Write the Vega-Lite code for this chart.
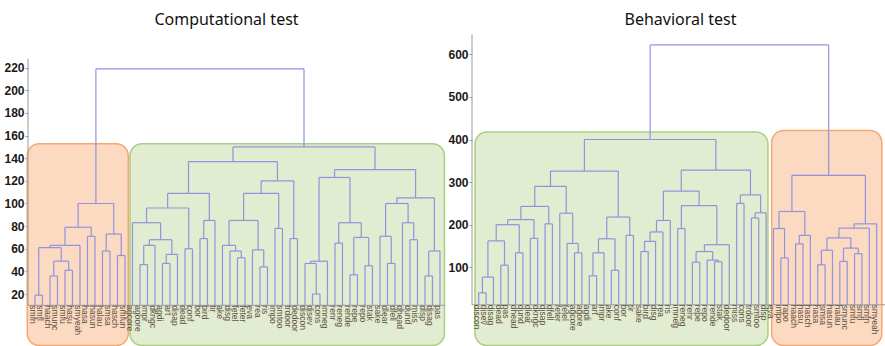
{
  "$schema": "https://vega.github.io/schema/vega-lite/v6.json",
  "padding": {"left": 0, "right": 0, "top": 11, "bottom": 0},
  "spacing": 0,
  "config": {
    "view": {"stroke": null},
    "axis": {"labelFont": "Liberation Sans", "labelFontSize": 12, "labelColor": "#1a1a1a", "labelFontWeight": "bold", "tickColor": "#999999", "tickSize": 3, "labelPadding": 1, "domain": false, "grid": false},
    "title": {"font": "Noto Sans", "fontSize": 16, "fontWeight": "normal", "color": "#111111", "offset": 6}
  },
  "datasets": {
    "one": [{}],
    "boxesL": [
      {"cluster": "orange", "a": -1.03, "b": 12.44, "top": 152.8, "bot": -25.5},
      {"cluster": "green", "a": 12.67, "b": 54.6, "top": 152.8, "bot": -25.5}
    ],
    "boxesR": [
      {"cluster": "green", "a": -0.5, "b": 39.25, "top": 417.6, "bot": -83.6},
      {"cluster": "orange", "a": 39.75, "b": 54.7, "top": 421, "bot": -83.6}
    ],
    "linksL": [
      {"xl": 0, "hl": 10, "xr": 1, "hr": 10, "h": 19},
      {"xl": 2, "hl": 10, "xr": 3, "hr": 10, "h": 36},
      {"xl": 4, "hl": 10, "xr": 5, "hr": 10, "h": 41},
      {"xl": 2.5, "hl": 36, "xr": 4.5, "hr": 41, "h": 49},
      {"xl": 0.5, "hl": 19, "xr": 3.5, "hr": 49, "h": 61},
      {"xl": 2, "hl": 61, "xr": 6, "hr": 10, "h": 63},
      {"xl": 7, "hl": 10, "xr": 8, "hr": 10, "h": 71},
      {"xl": 4, "hl": 63, "xr": 7.5, "hr": 71, "h": 79},
      {"xl": 9, "hl": 10, "xr": 10, "hr": 10, "h": 58},
      {"xl": 11, "hl": 10, "xr": 12, "hr": 10, "h": 54},
      {"xl": 9.5, "hl": 58, "xr": 11.5, "hr": 54, "h": 73},
      {"xl": 5.75, "hl": 79, "xr": 10.5, "hr": 73, "h": 100},
      {"xl": 14, "hl": 10, "xr": 15, "hr": 10, "h": 46},
      {"xl": 14.5, "hl": 46, "xr": 16, "hr": 10, "h": 63},
      {"xl": 17, "hl": 10, "xr": 18, "hr": 10, "h": 47},
      {"xl": 17.5, "hl": 47, "xr": 19, "hr": 10, "h": 55},
      {"xl": 15.25, "hl": 63, "xr": 18.25, "hr": 55, "h": 68},
      {"xl": 13, "hl": 10, "xr": 16.75, "hr": 68, "h": 83},
      {"xl": 20, "hl": 10, "xr": 21, "hr": 10, "h": 60},
      {"xl": 14.875, "hl": 83, "xr": 20.5, "hr": 60, "h": 96},
      {"xl": 22, "hl": 10, "xr": 23, "hr": 10, "h": 69},
      {"xl": 22.5, "hl": 69, "xr": 24, "hr": 10, "h": 85},
      {"xl": 17.6875, "hl": 96, "xr": 23.25, "hr": 85, "h": 109},
      {"xl": 27, "hl": 10, "xr": 28, "hr": 10, "h": 52},
      {"xl": 26, "hl": 10, "xr": 27.5, "hr": 52, "h": 58},
      {"xl": 25, "hl": 10, "xr": 26.75, "hr": 58, "h": 63},
      {"xl": 30, "hl": 10, "xr": 31, "hr": 10, "h": 44},
      {"xl": 29, "hl": 10, "xr": 30.5, "hr": 44, "h": 59},
      {"xl": 25.875, "hl": 63, "xr": 29.75, "hr": 59, "h": 85},
      {"xl": 32, "hl": 10, "xr": 33, "hr": 10, "h": 78},
      {"xl": 27.8125, "hl": 85, "xr": 32.5, "hr": 78, "h": 109},
      {"xl": 34, "hl": 10, "xr": 35, "hr": 10, "h": 69},
      {"xl": 30.15625, "hl": 109, "xr": 34.5, "hr": 69, "h": 120},
      {"xl": 20.46875, "hl": 109, "xr": 32.328125, "hr": 120, "h": 137},
      {"xl": 37, "hl": 10, "xr": 38, "hr": 10, "h": 20},
      {"xl": 36, "hl": 10, "xr": 37.5, "hr": 20, "h": 47},
      {"xl": 36.75, "hl": 47, "xr": 39, "hr": 10, "h": 49},
      {"xl": 40, "hl": 10, "xr": 41, "hr": 10, "h": 65},
      {"xl": 42, "hl": 10, "xr": 43, "hr": 10, "h": 37},
      {"xl": 44, "hl": 10, "xr": 45, "hr": 10, "h": 45},
      {"xl": 42.5, "hl": 37, "xr": 44.5, "hr": 45, "h": 70},
      {"xl": 40.5, "hl": 65, "xr": 43.5, "hr": 70, "h": 83},
      {"xl": 37.875, "hl": 49, "xr": 42, "hr": 83, "h": 123},
      {"xl": 47, "hl": 10, "xr": 48, "hr": 10, "h": 47},
      {"xl": 46, "hl": 10, "xr": 47.5, "hr": 47, "h": 71},
      {"xl": 50, "hl": 10, "xr": 51, "hr": 10, "h": 68},
      {"xl": 49, "hl": 10, "xr": 50.5, "hr": 68, "h": 83},
      {"xl": 46.75, "hl": 71, "xr": 49.75, "hr": 83, "h": 100},
      {"xl": 52, "hl": 10, "xr": 53, "hr": 10, "h": 36},
      {"xl": 52.5, "hl": 36, "xr": 54, "hr": 10, "h": 58},
      {"xl": 48.25, "hl": 100, "xr": 53.25, "hr": 58, "h": 105},
      {"xl": 39.9375, "hl": 123, "xr": 50.75, "hr": 105, "h": 130},
      {"xl": 26.3984, "hl": 137, "xr": 45.3438, "hr": 130, "h": 150},
      {"xl": 8.125, "hl": 100, "xr": 35.8711, "hr": 150, "h": 219}
    ],
    "linksR": [
      {"xl": 0, "hl": 12, "xr": 1, "hr": 12, "h": 40},
      {"xl": 0.5, "hl": 40, "xr": 2, "hr": 12, "h": 77},
      {"xl": 3, "hl": 12, "xr": 4, "hr": 12, "h": 105},
      {"xl": 1.25, "hl": 77, "xr": 3.5, "hr": 105, "h": 162},
      {"xl": 5, "hl": 12, "xr": 6, "hr": 12, "h": 134},
      {"xl": 2.375, "hl": 162, "xr": 5.5, "hr": 134, "h": 200},
      {"xl": 7, "hl": 12, "xr": 8, "hr": 12, "h": 168},
      {"xl": 3.9375, "hl": 200, "xr": 7.5, "hr": 168, "h": 212},
      {"xl": 9, "hl": 12, "xr": 10, "hr": 12, "h": 202},
      {"xl": 5.71875, "hl": 212, "xr": 9.5, "hr": 202, "h": 243},
      {"xl": 13, "hl": 12, "xr": 14, "hr": 12, "h": 134},
      {"xl": 12, "hl": 12, "xr": 13.5, "hr": 134, "h": 156},
      {"xl": 11, "hl": 12, "xr": 12.75, "hr": 156, "h": 227},
      {"xl": 7.609375, "hl": 243, "xr": 11.875, "hr": 227, "h": 290},
      {"xl": 15, "hl": 12, "xr": 16, "hr": 12, "h": 80},
      {"xl": 15.5, "hl": 80, "xr": 17, "hr": 12, "h": 134},
      {"xl": 18, "hl": 12, "xr": 19, "hr": 12, "h": 93},
      {"xl": 16.25, "hl": 134, "xr": 18.5, "hr": 93, "h": 167},
      {"xl": 20, "hl": 12, "xr": 21, "hr": 12, "h": 175},
      {"xl": 17.375, "hl": 167, "xr": 20.5, "hr": 175, "h": 218},
      {"xl": 9.7421875, "hl": 290, "xr": 18.9375, "hr": 218, "h": 326},
      {"xl": 22, "hl": 12, "xr": 23, "hr": 12, "h": 137},
      {"xl": 22.5, "hl": 137, "xr": 24, "hr": 12, "h": 161},
      {"xl": 23.25, "hl": 161, "xr": 25, "hr": 12, "h": 183},
      {"xl": 24.125, "hl": 183, "xr": 26, "hr": 12, "h": 210},
      {"xl": 27, "hl": 12, "xr": 28, "hr": 12, "h": 191},
      {"xl": 29, "hl": 12, "xr": 30, "hr": 12, "h": 112},
      {"xl": 32, "hl": 12, "xr": 33, "hr": 12, "h": 113},
      {"xl": 31, "hl": 12, "xr": 32.5, "hr": 113, "h": 117},
      {"xl": 29.5, "hl": 112, "xr": 31.75, "hr": 117, "h": 137},
      {"xl": 30.625, "hl": 137, "xr": 34, "hr": 12, "h": 153},
      {"xl": 27.5, "hl": 191, "xr": 32.3125, "hr": 153, "h": 245},
      {"xl": 25.0625, "hl": 210, "xr": 29.90625, "hr": 245, "h": 279},
      {"xl": 37, "hl": 12, "xr": 38, "hr": 12, "h": 216},
      {"xl": 37.5, "hl": 216, "xr": 39, "hr": 12, "h": 228},
      {"xl": 35, "hl": 12, "xr": 36, "hr": 12, "h": 250},
      {"xl": 35.5, "hl": 250, "xr": 38.25, "hr": 228, "h": 270},
      {"xl": 27.484375, "hl": 279, "xr": 36.875, "hr": 270, "h": 328},
      {"xl": 14.33984375, "hl": 326, "xr": 32.1796875, "hr": 328, "h": 400},
      {"xl": 41, "hl": 12, "xr": 42, "hr": 12, "h": 122},
      {"xl": 40, "hl": 12, "xr": 41.5, "hr": 122, "h": 191},
      {"xl": 43, "hl": 12, "xr": 44, "hr": 12, "h": 155},
      {"xl": 43.5, "hl": 155, "xr": 45, "hr": 12, "h": 175},
      {"xl": 40.75, "hl": 191, "xr": 44.25, "hr": 175, "h": 231},
      {"xl": 46, "hl": 12, "xr": 47, "hr": 12, "h": 106},
      {"xl": 46.5, "hl": 106, "xr": 48, "hr": 12, "h": 140},
      {"xl": 49, "hl": 12, "xr": 50, "hr": 12, "h": 114},
      {"xl": 51, "hl": 12, "xr": 52, "hr": 12, "h": 132},
      {"xl": 49.5, "hl": 114, "xr": 51.5, "hr": 132, "h": 145},
      {"xl": 47.25, "hl": 140, "xr": 50.5, "hr": 145, "h": 169},
      {"xl": 48.875, "hl": 169, "xr": 53, "hr": 12, "h": 192},
      {"xl": 50.9375, "hl": 192, "xr": 54, "hr": 12, "h": 202},
      {"xl": 42.5, "hl": 231, "xr": 52.46875, "hr": 202, "h": 316},
      {"xl": 23.259765625, "hl": 400, "xr": 47.484375, "hr": 316, "h": 622}
    ],
    "leavesL": [
      {"i": 0, "label": "smfn"}, {"i": 1, "label": "smfl"}, {"i": 2, "label": "haach"}, {"i": 3, "label": "smunc"}, {"i": 4, "label": "smfu"}, {"i": 5, "label": "hasu"}, {"i": 6, "label": "smyeah"}, {"i": 7, "label": "hasa"}, {"i": 8, "label": "hasun"}, {"i": 9, "label": "halau"}, {"i": 10, "label": "smsa"}, {"i": 11, "label": "hasch"}, {"i": 12, "label": "smfun"},
      {"i": 13, "label": "agcore"}, {"i": 14, "label": "agoore"}, {"i": 15, "label": "impr"}, {"i": 16, "label": "dkngc"}, {"i": 17, "label": "agdi"}, {"i": 18, "label": "art"}, {"i": 19, "label": "disap"}, {"i": 20, "label": "dead"}, {"i": 21, "label": "conf"}, {"i": 22, "label": "bor"}, {"i": 23, "label": "bird"}, {"i": 24, "label": "tir"}, {"i": 25, "label": "ake"}, {"i": 26, "label": "disg"}, {"i": 27, "label": "fetel"}, {"i": 28, "label": "feter"}, {"i": 29, "label": "eva"}, {"i": 30, "label": "rea"}, {"i": 31, "label": "ris"}, {"i": 32, "label": "impo"}, {"i": 33, "label": "smtoo"}, {"i": 34, "label": "trdoor"}, {"i": 35, "label": "dedoor"}, {"i": 36, "label": "discon"}, {"i": 37, "label": "disev"}, {"i": 38, "label": "cons"}, {"i": 39, "label": "imneg"}, {"i": 40, "label": "renr"}, {"i": 41, "label": "reneg"}, {"i": 42, "label": "rende"}, {"i": 43, "label": "repe"}, {"i": 44, "label": "repo"}, {"i": 45, "label": "stak"}, {"i": 46, "label": "sake"}, {"i": 47, "label": "dlear"}, {"i": 48, "label": "dfell"}, {"i": 49, "label": "dhead"}, {"i": 50, "label": "dund"}, {"i": 51, "label": "miss"}, {"i": 52, "label": "dlsp"}, {"i": 53, "label": "disag"}, {"i": 54, "label": "pas"}
    ],
    "leavesR": [
      {"i": 0, "label": "discon"}, {"i": 1, "label": "disev"}, {"i": 2, "label": "disag"}, {"i": 3, "label": "dead"}, {"i": 4, "label": "pas"}, {"i": 5, "label": "dhead"}, {"i": 6, "label": "dund"}, {"i": 7, "label": "dlear"}, {"i": 8, "label": "dkngc"}, {"i": 9, "label": "disap"}, {"i": 10, "label": "dfell"}, {"i": 11, "label": "feter"}, {"i": 12, "label": "fetel"}, {"i": 13, "label": "agcore"}, {"i": 14, "label": "agore"}, {"i": 15, "label": "agdi"}, {"i": 16, "label": "art"}, {"i": 17, "label": "impr"}, {"i": 18, "label": "ake"}, {"i": 19, "label": "conf"}, {"i": 20, "label": "bor"}, {"i": 21, "label": "tir"}, {"i": 22, "label": "sake"}, {"i": 23, "label": "bird"}, {"i": 24, "label": "disg"}, {"i": 25, "label": "rea"}, {"i": 26, "label": "ris"}, {"i": 27, "label": "imneg"}, {"i": 28, "label": "reneg"}, {"i": 29, "label": "renr"}, {"i": 30, "label": "repe"}, {"i": 31, "label": "repo"}, {"i": 32, "label": "rende"}, {"i": 33, "label": "stak"}, {"i": 34, "label": "dedoor"}, {"i": 35, "label": "miss"}, {"i": 36, "label": "cons"}, {"i": 37, "label": "trdoor"}, {"i": 38, "label": "smtoo"}, {"i": 39, "label": "dlsp"},
      {"i": 40, "label": "eva"}, {"i": 41, "label": "impo"}, {"i": 42, "label": "rapo"}, {"i": 43, "label": "haach"}, {"i": 44, "label": "hasu"}, {"i": 45, "label": "hasch"}, {"i": 46, "label": "hasa"}, {"i": 47, "label": "smsa"}, {"i": 48, "label": "hasun"}, {"i": 49, "label": "halau"}, {"i": 50, "label": "smunc"}, {"i": 51, "label": "smfu"}, {"i": 52, "label": "smfl"}, {"i": 53, "label": "smfn"}, {"i": 54, "label": "smyeah"}
    ]
  },
  "hconcat": [
    {
      "width": 417,
      "height": 313,
      "title": {"text": "Computational test", "dx": -10},
      "layer": [
        {
          "data": {"name": "boxesL"},
          "mark": {"type": "rect", "cornerRadius": 12, "strokeWidth": 1.5},
          "encoding": {
            "x": {"field": "a", "type": "quantitative", "scale": {"domain": [-0.93, 54.67], "nice": false, "zero": false}, "axis": null},
            "x2": {"field": "b"},
            "y": {"field": "top", "type": "quantitative", "scale": {"domain": [-26.84, 249.8], "nice": false, "zero": false}, "axis": {"values": [20, 40, 60, 80, 100, 120, 140, 160, 180, 200, 220], "title": null, "minExtent": 28, "maxExtent": 28}},
            "y2": {"field": "bot"},
            "fill": {"field": "cluster", "type": "nominal", "scale": {"domain": ["orange", "green"], "range": ["#fcdac2", "#e2ecd1"]}, "legend": null},
            "stroke": {"field": "cluster", "type": "nominal", "scale": {"domain": ["orange", "green"], "range": ["#f4a770", "#a9cf7e"]}, "legend": null}
          }
        },
        {
          "data": {"name": "one"},
          "mark": {"type": "rule", "color": "#9a9a9a", "strokeWidth": 1},
          "encoding": {
            "x": {"datum": -0.93, "type": "quantitative", "axis": null},
            "y": {"datum": 10, "type": "quantitative", "axis": {"values": [20, 40, 60, 80, 100, 120, 140, 160, 180, 200, 220], "title": null, "minExtent": 28, "maxExtent": 28}},
            "y2": {"datum": 228}
          }
        },
        {
          "data": {"name": "one"},
          "mark": {"type": "rule", "color": "#9a9a9a", "strokeWidth": 1},
          "encoding": {
            "x": {"datum": -0.93, "type": "quantitative", "axis": null},
            "x2": {"datum": 54.67},
            "y": {"datum": 10, "type": "quantitative", "axis": {"values": [20, 40, 60, 80, 100, 120, 140, 160, 180, 200, 220], "title": null, "minExtent": 28, "maxExtent": 28}}
          }
        },
        {
          "data": {"name": "linksL"},
          "mark": {"type": "rule", "color": "#8f94dc", "strokeWidth": 1.2},
          "encoding": {
            "x": {"field": "xl", "type": "quantitative", "axis": null},
            "x2": {"field": "xr"},
            "y": {"field": "h", "type": "quantitative", "axis": {"values": [20, 40, 60, 80, 100, 120, 140, 160, 180, 200, 220], "title": null, "minExtent": 28, "maxExtent": 28}}
          }
        },
        {
          "data": {"name": "linksL"},
          "mark": {"type": "rule", "color": "#8f94dc", "strokeWidth": 1.2},
          "encoding": {
            "x": {"field": "xl", "type": "quantitative", "axis": null},
            "y": {"field": "hl", "type": "quantitative", "axis": {"values": [20, 40, 60, 80, 100, 120, 140, 160, 180, 200, 220], "title": null, "minExtent": 28, "maxExtent": 28}},
            "y2": {"field": "h"}
          }
        },
        {
          "data": {"name": "linksL"},
          "mark": {"type": "rule", "color": "#8f94dc", "strokeWidth": 1.2},
          "encoding": {
            "x": {"field": "xr", "type": "quantitative", "axis": null},
            "y": {"field": "hr", "type": "quantitative", "axis": {"values": [20, 40, 60, 80, 100, 120, 140, 160, 180, 200, 220], "title": null, "minExtent": 28, "maxExtent": 28}},
            "y2": {"field": "h"}
          }
        },
        {
          "data": {"name": "leavesL"},
          "mark": {"type": "text", "angle": 90, "align": "left", "baseline": "middle", "dy": 2, "font": "Liberation Sans", "fontSize": 8.5, "color": "#5e5344"},
          "encoding": {
            "x": {"field": "i", "type": "quantitative", "axis": null},
            "y": {"datum": 10, "type": "quantitative", "axis": {"values": [20, 40, 60, 80, 100, 120, 140, 160, 180, 200, 220], "title": null, "minExtent": 28, "maxExtent": 28}},
            "text": {"field": "label"}
          }
        }
      ]
    },
    {
      "width": 413,
      "height": 313,
      "title": {"text": "Behavioral test", "dx": 2},
      "layer": [
        {
          "data": {"name": "boxesR"},
          "mark": {"type": "rect", "cornerRadius": 12, "strokeWidth": 1.5},
          "encoding": {
            "x": {"field": "a", "type": "quantitative", "scale": {"domain": [-0.91, 55.13], "nice": false, "zero": false}, "axis": null},
            "x2": {"field": "b"},
            "y": {"field": "top", "type": "quantitative", "scale": {"domain": [-87.1, 647.7], "nice": false, "zero": false}, "axis": {"values": [100, 200, 300, 400, 500, 600], "title": null, "minExtent": 26, "maxExtent": 26}},
            "y2": {"field": "bot"},
            "fill": {"field": "cluster", "type": "nominal", "scale": {"domain": ["orange", "green"], "range": ["#fcdac2", "#e2ecd1"]}, "legend": null},
            "stroke": {"field": "cluster", "type": "nominal", "scale": {"domain": ["orange", "green"], "range": ["#f4a770", "#a9cf7e"]}, "legend": null}
          }
        },
        {
          "data": {"name": "one"},
          "mark": {"type": "rule", "color": "#9a9a9a", "strokeWidth": 1},
          "encoding": {
            "x": {"datum": -0.91, "type": "quantitative", "axis": null},
            "y": {"datum": 12, "type": "quantitative", "axis": {"values": [100, 200, 300, 400, 500, 600], "title": null, "minExtent": 26, "maxExtent": 26}},
            "y2": {"datum": 647}
          }
        },
        {
          "data": {"name": "one"},
          "mark": {"type": "rule", "color": "#9a9a9a", "strokeWidth": 1},
          "encoding": {
            "x": {"datum": -0.91, "type": "quantitative", "axis": null},
            "x2": {"datum": 55.13},
            "y": {"datum": 12, "type": "quantitative", "axis": {"values": [100, 200, 300, 400, 500, 600], "title": null, "minExtent": 26, "maxExtent": 26}}
          }
        },
        {
          "data": {"name": "linksR"},
          "mark": {"type": "rule", "color": "#8f94dc", "strokeWidth": 1.2},
          "encoding": {
            "x": {"field": "xl", "type": "quantitative", "axis": null},
            "x2": {"field": "xr"},
            "y": {"field": "h", "type": "quantitative", "axis": {"values": [100, 200, 300, 400, 500, 600], "title": null, "minExtent": 26, "maxExtent": 26}}
          }
        },
        {
          "data": {"name": "linksR"},
          "mark": {"type": "rule", "color": "#8f94dc", "strokeWidth": 1.2},
          "encoding": {
            "x": {"field": "xl", "type": "quantitative", "axis": null},
            "y": {"field": "hl", "type": "quantitative", "axis": {"values": [100, 200, 300, 400, 500, 600], "title": null, "minExtent": 26, "maxExtent": 26}},
            "y2": {"field": "h"}
          }
        },
        {
          "data": {"name": "linksR"},
          "mark": {"type": "rule", "color": "#8f94dc", "strokeWidth": 1.2},
          "encoding": {
            "x": {"field": "xr", "type": "quantitative", "axis": null},
            "y": {"field": "hr", "type": "quantitative", "axis": {"values": [100, 200, 300, 400, 500, 600], "title": null, "minExtent": 26, "maxExtent": 26}},
            "y2": {"field": "h"}
          }
        },
        {
          "data": {"name": "leavesR"},
          "mark": {"type": "text", "angle": 90, "align": "left", "baseline": "middle", "dy": 2, "font": "Liberation Sans", "fontSize": 8.5, "color": "#5e5344"},
          "encoding": {
            "x": {"field": "i", "type": "quantitative", "axis": null},
            "y": {"datum": 12, "type": "quantitative", "axis": {"values": [100, 200, 300, 400, 500, 600], "title": null, "minExtent": 26, "maxExtent": 26}},
            "text": {"field": "label"}
          }
        }
      ]
    }
  ]
}
